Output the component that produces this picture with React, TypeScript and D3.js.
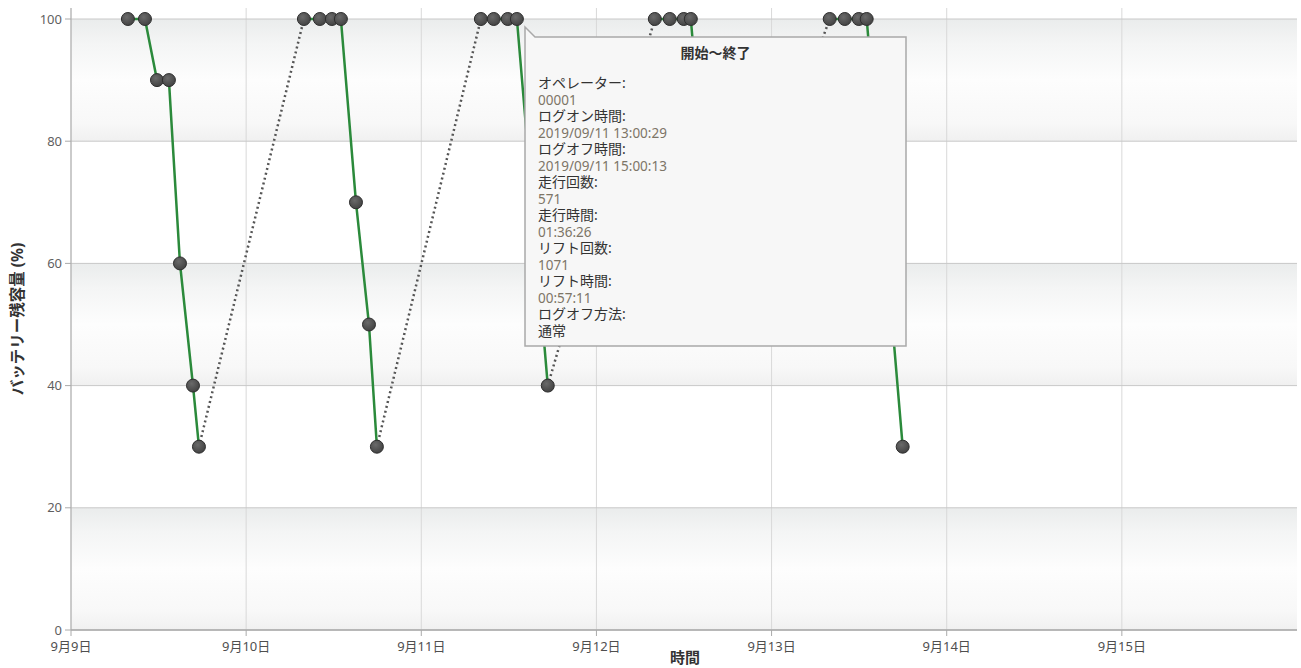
import React from "react";
import * as d3 from "d3";

// ---- data ----
const sessionIds = [1, 1, 1, 1, 1, 1, 1, 2, 2, 2, 2, 2, 2, 2, 3, 3, 3, 3, 3, 4, 4, 4, 4, 4, 5, 5, 5, 5, 5];
const times = [
  "2019-09-09T07:48", "2019-09-09T10:08", "2019-09-09T11:47", "2019-09-09T13:25", "2019-09-09T14:56", "2019-09-09T16:43", "2019-09-09T17:32",
  "2019-09-10T07:55", "2019-09-10T10:06", "2019-09-10T11:45", "2019-09-10T12:59", "2019-09-10T15:03", "2019-09-10T16:50", "2019-09-10T17:55",
  "2019-09-11T08:10", "2019-09-11T09:56", "2019-09-11T11:51", "2019-09-11T13:06", "2019-09-11T17:20",
  "2019-09-12T08:00", "2019-09-12T10:03", "2019-09-12T11:58", "2019-09-12T12:56", "2019-09-12T16:30",
  "2019-09-13T07:58", "2019-09-13T10:02", "2019-09-13T11:57", "2019-09-13T13:02", "2019-09-13T17:58",
];
const levels = [
  100, 100, 90, 90, 60, 40, 30,
  100, 100, 100, 100, 70, 50, 30,
  100, 100, 100, 100, 40,
  100, 100, 100, 100, 50,
  100, 100, 100, 100, 30,
];
const yTicks = [0, 20, 40, 60, 80, 100];
const xTickDates = ["2019-09-09", "2019-09-10", "2019-09-11", "2019-09-12", "2019-09-13", "2019-09-14", "2019-09-15"];
const xDomain = ["2019-09-09T00:00", "2019-09-16T00:00"];
const yTitle = "バッテリー残容量 (%)";
const xTitle = "時間";
const tooltipTitle = "開始～終了";
const tooltipLabels = ["オペレーター:", "ログオン時間:", "ログオフ時間:", "走行回数:", "走行時間:", "リフト回数:", "リフト時間:", "ログオフ方法:"];
const tooltipValues = ["00001", "2019/09/11 13:00:29", "2019/09/11 15:00:13", "571", "01:36:26", "1071", "00:57:11", "通常"];

const FONT = "'Noto Sans', 'Noto Sans CJK JP', sans-serif";

export default function App() {
  const W = 1301, H = 668;
  const left = 71, right = 1297, top = 8, bottom = 630;
  const x = d3.scaleTime().domain(xDomain.map((s) => new Date(s))).range([left, right]);
  const y = d3.scaleLinear().domain([0, 100]).range([bottom, 19]);

  const pts = times.map((t, i) => ({ t: new Date(t), v: levels[i], s: sessionIds[i] }));
  const groups = d3.groups(pts, (p) => p.s).map((g) => g[1]);
  const line = d3.line<any>().x((p) => x(p.t)).y((p) => y(p.v));

  const gaps: any[] = [];
  for (let i = 0; i < groups.length - 1; i++) {
    gaps.push([groups[i][groups[i].length - 1], groups[i + 1][0]]);
  }

  const bands = [[80, 100], [40, 60], [0, 20]];

  // tooltip box
  const tx0 = 525, tx1 = 906, ty0 = 37, ty1 = 346;
  const tipPath = `M${tx0},${ty0 - 10} L${tx0 + 10},${ty0} L${tx1},${ty0} L${tx1},${ty1} L${tx0},${ty1} Z`;

  return (
    <svg width={W} height={H} style={{ position: "absolute", left: 0, top: 0, display: "block", fontFamily: FONT }}>
      <defs>
        <linearGradient id="band" x1="0" y1="0" x2="0" y2="1">
          <stop offset="0%" stopColor="#eaecec" />
          <stop offset="20%" stopColor="#f4f5f5" />
          <stop offset="50%" stopColor="#fdfdfd" />
          <stop offset="85%" stopColor="#f8f8f8" />
          <stop offset="100%" stopColor="#f0f0f0" />
        </linearGradient>
        <radialGradient id="mk" cx="40%" cy="35%" r="70%">
          <stop offset="0%" stopColor="#6a6a6a" />
          <stop offset="100%" stopColor="#404040" />
        </radialGradient>
      </defs>
      <rect x={0} y={0} width={W} height={H} fill="#fff" />
      {bands.map(([a, b], i) => (
        <rect key={i} x={left} y={y(b)} width={right - left} height={y(a) - y(b)} fill="url(#band)" />
      ))}
      {/* vertical grid */}
      {xTickDates.map((d, i) => (
        <line key={i} x1={x(new Date(d + "T00:00"))} x2={x(new Date(d + "T00:00"))} y1={top} y2={bottom} stroke="#d9d9d9" strokeWidth={1} />
      ))}
      {/* horizontal grid */}
      {yTicks.map((v) => (
        <line key={v} x1={left} x2={right} y1={y(v)} y2={y(v)} stroke="#c8c8c8" strokeWidth={1} />
      ))}
      {/* axes */}
      <line x1={left} x2={left} y1={top} y2={bottom} stroke="#aaa" strokeWidth={1} />
      <line x1={left} x2={right} y1={bottom} y2={bottom} stroke="#aaa" strokeWidth={1.5} />
      {yTicks.map((v) => (
        <g key={v}>
          <line x1={left - 6} x2={left} y1={y(v)} y2={y(v)} stroke="#aaa" />
          <text x={62} y={y(v)} dy="0.35em" textAnchor="end" fontSize={13} fill="#5f5f5f">{v}</text>
        </g>
      ))}
      {xTickDates.map((d, i) => {
        const dt = new Date(d + "T00:00");
        return (
          <g key={i}>
            <line x1={x(dt)} x2={x(dt)} y1={bottom} y2={bottom + 6} stroke="#aaa" />
            <text x={x(dt)} y={651} textAnchor="middle" fontSize={13} fill="#4f4f4f">{`${dt.getMonth() + 1}月${dt.getDate()}日`}</text>
          </g>
        );
      })}
      <text transform={`translate(23,319) rotate(-90)`} textAnchor="middle" fontSize={15.5} fontWeight="bold" fill="#333">{yTitle}</text>
      <text x={685} y={663} textAnchor="middle" fontSize={15} fontWeight="bold" fill="#333">{xTitle}</text>
      {/* dotted connections */}
      {gaps.map((g, i) => (
        <path key={i} d={line(g) || ""} fill="none" stroke="#555" strokeWidth={2.5} strokeDasharray="2,3" />
      ))}
      {/* sessions */}
      {groups.map((g, i) => (
        <path key={i} d={line(g) || ""} fill="none" stroke="#2b8a3b" strokeWidth={2.5} />
      ))}
      {pts.map((p, i) => (
        <circle key={i} cx={x(p.t)} cy={y(p.v)} r={6.5} fill="url(#mk)" stroke="#2e2e2e" strokeWidth={1} />
      ))}
      {/* tooltip */}
      <path d={tipPath} fill="#f7f7f7" stroke="#a9a9a9" strokeWidth={1.5} />
      <text x={(tx0 + tx1) / 2} y={58} textAnchor="middle" fontSize={14} fontWeight="bold" fill="#333">{tooltipTitle}</text>
      {tooltipLabels.map((l, i) => (
        <g key={i}>
          <text x={538} y={88 + i * 33} fontSize={14} fill="#333">{l}</text>
          <text x={538} y={104.5 + i * 33} fontSize={i === tooltipLabels.length - 1 ? 14 : 13.5} fill={i === tooltipLabels.length - 1 ? "#333" : "#7d7567"}>{tooltipValues[i]}</text>
        </g>
      ))}
    </svg>
  );
}
